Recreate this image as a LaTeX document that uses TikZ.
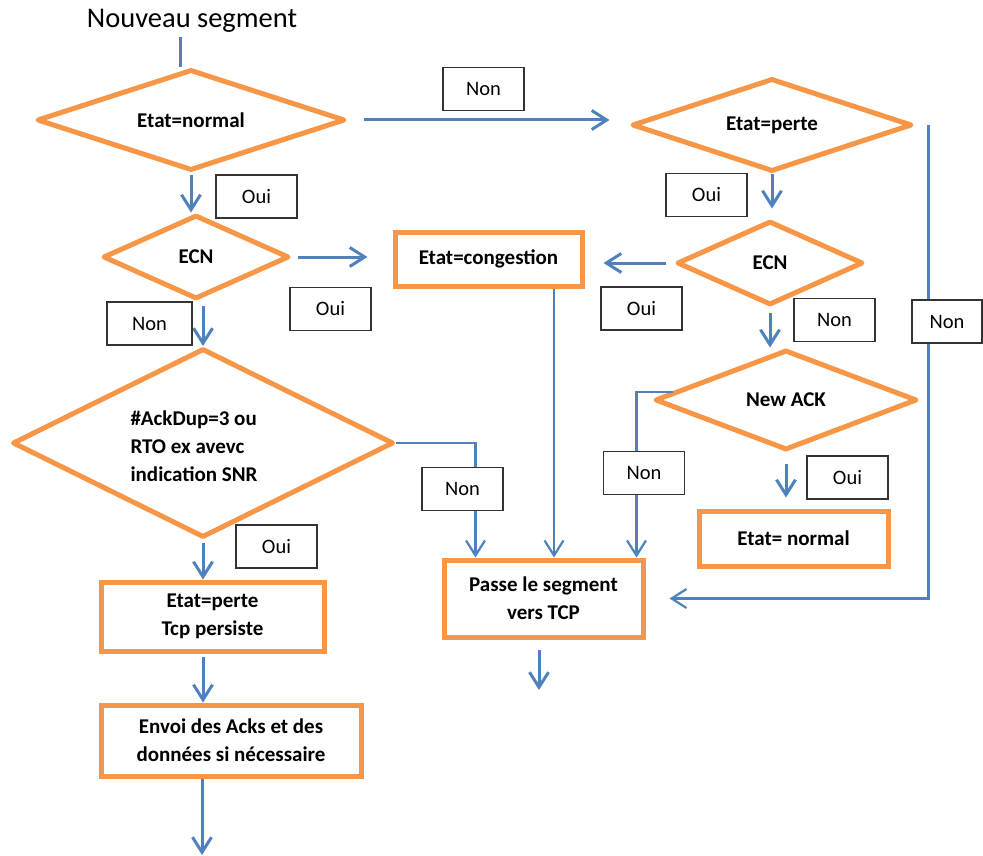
\documentclass[tikz,border=0pt]{standalone}
\usepackage{fontspec}
\setmainfont{Carlito}
\usetikzlibrary{shapes.geometric,arrows.meta}
\definecolor{flowblue}{HTML}{4F81BD}
\definecolor{boxorange}{HTML}{F79646}
\tikzset{
  decision/.style={diamond, aspect=3, draw=boxorange, line width=5pt, line join=round,
    inner sep=0pt, font=\bfseries\fontsize{21}{28}\selectfont, align=center},
  process/.style={rectangle, draw=boxorange, line width=5pt, inner sep=0pt,
    font=\bfseries\fontsize{21}{28}\selectfont, align=center},
  answer/.style={rectangle, draw=black!80, line width=1.3pt, fill=white,
    minimum width=81pt, minimum height=43pt, inner sep=0pt, font=\fontsize{20.5}{24}\selectfont},
  link/.style={draw=flowblue, line width=3pt},
  flow/.style={link, -{Straight Barb[length=15pt,width=19pt]}},
  thinflow/.style={flow, line width=2.2pt},
}
\begin{document}
\begin{tikzpicture}[x=1pt,y=-1pt]
\useasboundingbox (0,0) rectangle (983,856);

% title
\node[font=\fontsize{28.5}{32}\selectfont] (title) at (192,21) {Nouveau segment};

% decisions
\node[decision, minimum width=308pt, minimum height=101pt] (d1) at (191,120) {Etat=normal};
\node[decision, minimum width=186pt, minimum height=84pt] (d2) at (196,257) {ECN};
\node[decision, minimum width=381pt, minimum height=189pt] (d3) at (203,443) {};
\node[font=\bfseries\fontsize{21}{28}\selectfont, align=left, anchor=west] (d3text) at (127,446)
  {\#AckDup=3 ou\\RTO ex avevc\\indication SNR};
\node[decision, minimum width=280pt, minimum height=93pt] (d4) at (772,125) {Etat=perte};
\node[decision, minimum width=186pt, minimum height=84pt] (d5) at (770,263) {ECN};
\node[decision, minimum width=262pt, minimum height=100pt] (d6) at (786,400) {New ACK};

% processes
\node[process, minimum width=187pt, minimum height=54pt] (b1) at (488.5,259) {Etat=congestion};
\node[process, minimum width=223pt, minimum height=69pt] (b2) at (212.5,616.5) {Etat=perte\\Tcp persiste};
\node[process, minimum width=260pt, minimum height=71pt] (b3) at (231,740.5) {Envoi des Acks et des\\données si nécessaire};
\node[process, minimum width=199pt, minimum height=77pt] (b4) at (543.5,598.5) {Passe le segment\\vers TCP};
\node[process, minimum width=189pt, minimum height=55pt] (b5) at (793.5,538.5) {Etat= normal};

% connectors
\coordinate (t0) at (180,37);
\draw[link] (t0) -- (t0 |- d1.north);
\draw[flow, shorten <=2pt] (d1.south) -- (d1.south |- d2.north);
\draw[flow, shorten <=16pt, shorten >=20pt] (d1.east) -- (d1.east -| d4.west);
\draw[flow, shorten <=6pt, shorten >=25pt] (d2.east) -- (d2.east -| b1.west);
\draw[flow, shorten <=4pt] (d3.north |- d2.south) -- (d3.north);
\draw[thinflow] (d3.east) -| ([xshift=34pt]b4.north west);
\draw[flow, shorten <=3pt] (d3.south) -- (d3.south |- b2.north);
\draw[flow, shorten <=3pt] (b2.south -| d3.south) -- (b3.north -| d3.south);
\coordinate (out1) at (202,855);
\draw[flow] (b3.south -| out1) -- (out1);
\draw[thinflow] ([xshift=65.5pt]b1.south) -- ([xshift=65.5pt]b1.south |- b4.north);
\draw[flow, shorten >=10pt] (d4.south) -- (d4.south |- d5.north);
\draw[flow, shorten <=9pt, shorten >=19pt] (d5.west) -- (d5.west -| b1.east);
\draw[flow, shorten <=5pt] (d5.south) -- (d5.south |- d6.north);
\draw[thinflow] (d6.176) -| ([xshift=-9pt]b4.north east);
\draw[flow, shorten <=11pt, shorten >=11pt] (d6.south) -- (d6.south |- b5.north);
\draw[thinflow, shorten >=24pt] ([xshift=14pt]d4.east) |- (b4.east);
\coordinate (out2) at (539,690);
\draw[flow, shorten <=10pt] (b4.south -| out2) -- (out2);

% answer labels
\node[answer] (l1) at (256.5,196.5) {Oui};
\node[answer] (l2) at (483.5,89) {Non};
\node[answer] (l3) at (330.5,309) {Oui};
\node[answer, minimum width=85pt] (l4) at (149.5,323.5) {Non};
\node[answer] (l5) at (706.5,195) {Oui};
\node[answer] (l6) at (641.5,308.5) {Oui};
\node[answer] (l7) at (834.5,320) {Non};
\node[answer, minimum width=70pt] (l8) at (947,321.5) {Non};
\node[answer] (l9) at (462.5,489) {Non};
\node[answer] (l10) at (276.5,546.5) {Oui};
\node[answer] (l11) at (644,473) {Non};
\node[answer] (l12) at (847.5,477.5) {Oui};
\end{tikzpicture}
\end{document}
